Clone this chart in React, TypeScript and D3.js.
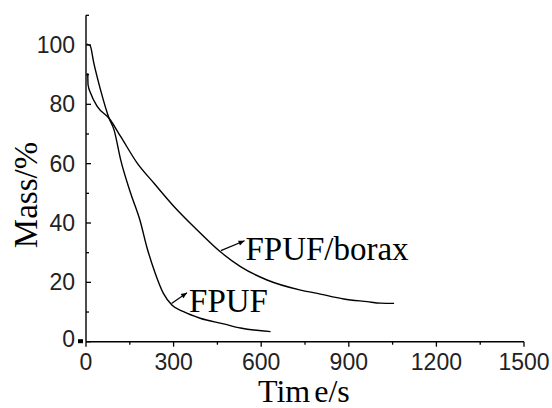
import React from "react";
import * as d3 from "d3";

const xTicks = [0, 300, 600, 900, 1200, 1500];
const xMinorTicks = [150, 450, 750, 1050, 1350];
const yTicks = [0, 20, 40, 60, 80, 100];
const yMinorTicks = [10, 30, 50, 70, 90, 110];

const fpufTime = [3, 14, 27, 50, 79, 96, 119, 153, 186, 208, 237, 265, 294, 334, 391, 471, 529, 632];
const fpufMass = [100.3, 99.8, 93.8, 84.8, 75.3, 71.4, 61.2, 50.0, 40.5, 32.0, 23.1, 16.3, 12.4, 10.1, 7.9, 6.0, 4.6, 3.4];

const boraxTime = [6, 7, 16, 39, 79, 119, 176, 233, 302, 377, 460, 529, 620, 735, 792, 883, 963, 1009, 1055];
const boraxMass = [90.5, 86.6, 83.7, 79.2, 75.3, 69.1, 60.1, 53.4, 45.5, 38.0, 30.3, 25.3, 20.8, 17.4, 16.3, 14.4, 13.5, 13.0, 12.9];

const labels = [
  { text: "FPUF/borax", x: 546, y: 27.6, lx1: 543, ly1: 34.0, lx2: 462, ly2: 30.7 },
  { text: "FPUF", x: 353, y: 10.0, lx1: 346, ly1: 16.5, lx2: 293, ly2: 12.9 },
];

const css = `
text.sf { font-family: "Times New Roman", "Tinos", "Liberation Serif", serif !important; }
text.ss { font-family: "Liberation Sans", Arial, sans-serif; }
`;

export default function App() {
  const W = 552;
  const H = 408;
  const x = d3.scaleLinear().domain([0, 1500]).range([86, 524]);
  const y = d3.scaleLinear().domain([0, 110]).range([341.7, 15.3]);

  const line = d3
    .line<[number, number]>()
    .x((d) => x(d[0]))
    .y((d) => y(d[1]))
    .curve(d3.curveMonotoneX);

  const fpuf = fpufTime.map((t, i) => [t, fpufMass[i]] as [number, number]);
  const borax = boraxTime.map((t, i) => [t, boraxMass[i]] as [number, number]);

  const x0 = x(0);
  const y0 = y(0);

  const arrowHead = (l: (typeof labels)[number]) => {
    const ax = x(l.lx1);
    const ay = y(l.ly1);
    const bx = x(l.lx2);
    const by = y(l.ly2);
    const ang = Math.atan2(ay - by, ax - bx);
    const len = 6;
    const w = 2.5;
    const px = ax - len * Math.cos(ang);
    const py = ay - len * Math.sin(ang);
    const nx = -Math.sin(ang) * w;
    const ny = Math.cos(ang) * w;
    return `M${ax},${ay}L${px + nx},${py + ny}L${px - nx},${py - ny}Z`;
  };

  return (
    <svg width={W} height={H} style={{ position: "absolute", left: 0, top: 0 }}>
      <style>{css}</style>
      {labels.map((l) => (
        <text key={l.text} className="sf" x={x(l.x)} y={y(l.y)} fontFamily="Times New Roman" fontSize={33}>
          {l.text}
        </text>
      ))}
      <text
        className="sf"
        transform="translate(37,195) rotate(-90)"
        textAnchor="middle"
        fontFamily="Times New Roman"
        fontSize={33}
      >
        Mass/%
      </text>
      <text className="sf" x={258} y={402} fontFamily="Times New Roman" fontSize={32}>
        <tspan>Tim</tspan>
        <tspan dx={4}>e/s</tspan>
      </text>
      <line x1={x0} x2={x0} y1={y(110)} y2={y0} stroke="#000" strokeWidth={1.4} />
      <line x1={x0} x2={x(1500)} y1={y0} y2={y0} stroke="#000" strokeWidth={1.4} />
      {yTicks.map((t) => (
        <text
          key={"ytl" + t}
          className="ss"
          x={75}
          y={y(t) - (t === 0 ? 3 : 0) + 8}
          textAnchor="end"
          fontSize={23}
          fill="#222"
        >
          {t}
        </text>
      ))}
      {xTicks.map((t) => (
        <text key={"xtl" + t} className="ss" x={x(t)} y={370} textAnchor="middle" fontSize={23} fill="#222">
          {t}
        </text>
      ))}
      {yTicks.map((t) => (
        <line key={"yt" + t} x1={x0} x2={x0 + 5} y1={y(t)} y2={y(t)} stroke="#000" strokeWidth={1.3} />
      ))}
      {yMinorTicks.map((t) => (
        <line key={"ym" + t} x1={x0} x2={x0 + 3} y1={y(t)} y2={y(t)} stroke="#000" strokeWidth={1.3} />
      ))}
      {xTicks.map((t) => (
        <line key={"xt" + t} x1={x(t)} x2={x(t)} y1={y0} y2={y0 + 5} stroke="#000" strokeWidth={1.3} />
      ))}
      {xMinorTicks.map((t) => (
        <line key={"xm" + t} x1={x(t)} x2={x(t)} y1={y0} y2={y0 + 3} stroke="#000" strokeWidth={1.3} />
      ))}
      <rect x={x0 - 8} y={y0 - 2.5} width={5} height={4} fill="#000" />
      <path d={line(fpuf) || ""} fill="none" stroke="#000" strokeWidth={1.4} />
      <path d={line(borax) || ""} fill="none" stroke="#000" strokeWidth={1.4} />
      {labels.map((l) => (
        <g key={"ld" + l.text}>
          <line x1={x(l.lx2)} y1={y(l.ly2)} x2={x(l.lx1)} y2={y(l.ly1)} stroke="#000" strokeWidth={1.2} />
          <path d={arrowHead(l)} fill="#000" />
        </g>
      ))}
    </svg>
  );
}
